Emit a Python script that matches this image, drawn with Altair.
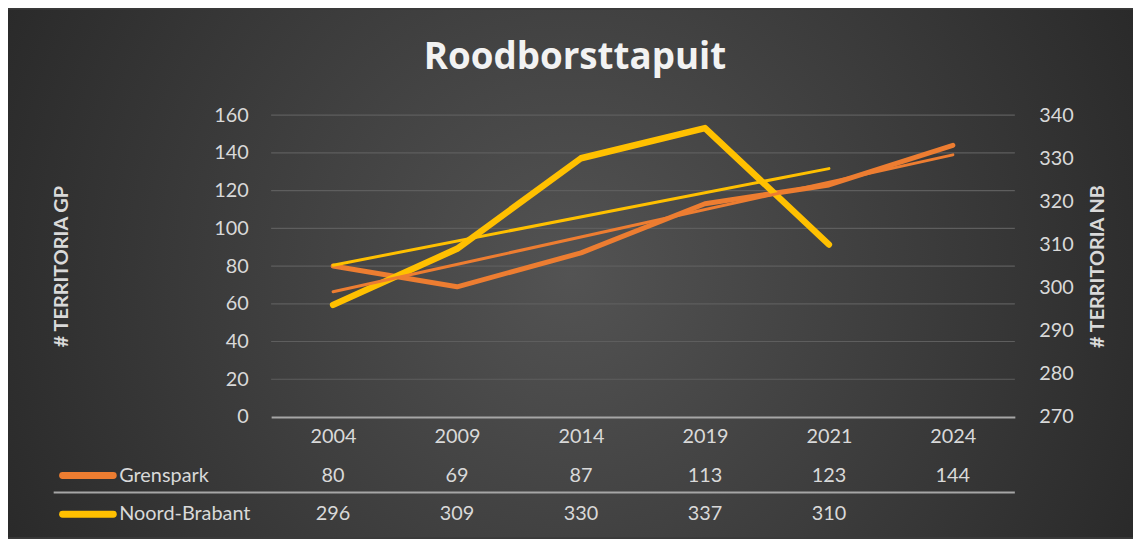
import json
import altair as alt
import pandas as pd

# ---- data ----
YEARS = ["2004", "2009", "2014", "2019", "2021", "2024"]
GRENSPARK = [80, 69, 87, 113, 123, 144]
NOORD_BRABANT = [296, 309, 330, 337, 310]
SERIES = ["Grenspark", "Noord-Brabant"]
TITLE = "Roodborsttapuit"
Y_LEFT_TITLE = "# TERRITORIA GP"
Y_RIGHT_TITLE = "# TERRITORIA NB"
LEFT_TICKS = [0, 20, 40, 60, 80, 100, 120, 140, 160]
RIGHT_TICKS = [270, 280, 290, 300, 310, 320, 330, 340]

ORANGE = "#ED7D31"
YELLOW = "#FFC000"
TXT = "#D9D9D9"
FONT = "Lato"

gp = pd.DataFrame({"idx": list(range(len(GRENSPARK))),
                   "year": YEARS[:len(GRENSPARK)],
                   "value": GRENSPARK})
nb = pd.DataFrame({"idx": list(range(len(NOORD_BRABANT))),
                   "year": YEARS[:len(NOORD_BRABANT)],
                   "value": NOORD_BRABANT})
grid_df = pd.DataFrame({"v": LEFT_TICKS[1:]})

W, H = 749, 304
PL, PT, PR, PB = 265, 106, 119, 121

label_expr = json.dumps(YEARS) + "[datum.value]"
xscale = alt.Scale(domain=[-0.5, len(YEARS) - 0.5], nice=False, zero=False)
xaxis = alt.Axis(values=list(range(len(YEARS))), labelExpr=label_expr,
                 title=None, grid=False, ticks=False, tickSize=0,
                 domain=True, domainColor="#A6A6A6", domainWidth=2,
                 labelColor=TXT, labelFont=FONT, labelFontSize=20,
                 labelPadding=10, zindex=1)
xenc = alt.X("idx:Q", scale=xscale, axis=xaxis)

left_scale = alt.Scale(domain=[0, 160], nice=False)
right_scale = alt.Scale(domain=[270, 340], nice=False, zero=False)

left_axis = alt.Axis(orient="left", values=LEFT_TICKS, title=Y_LEFT_TITLE,
                     grid=False, domain=False, ticks=False, tickSize=0, zindex=1,
                     labelColor=TXT, labelFont=FONT, labelFontSize=20, labelPadding=23,
                     titleColor=TXT, titleFont=FONT, titleFontSize=20, titleFontWeight="bold",
                     titleAngle=270, titleX=-211, titleY=H / 2,
                     titleAlign="center", titleBaseline="middle")
right_axis = alt.Axis(orient="right", values=RIGHT_TICKS, title=Y_RIGHT_TITLE,
                      grid=False, domain=False, ticks=False, tickSize=0, zindex=1,
                      labelColor=TXT, labelFont=FONT, labelFontSize=20, labelPadding=24,
                      titleColor=TXT, titleFont=FONT, titleFontSize=20, titleFontWeight="bold",
                      titleAngle=270, titleX=83, titleY=H / 2,
                      titleAlign="center", titleBaseline="middle")

one = pd.DataFrame({"k": [0]})

# background with radial gradient
bg = alt.Chart(one).mark_rect(
    color=alt.Gradient(gradient="radial",
                       stops=[alt.GradientStop(color="#535353", offset=0),
                              alt.GradientStop(color="#252525", offset=1)],
                       x1=0.5, y1=0.5, r1=0, x2=0.5, y2=0.5, r2=0.62)
).encode(x=alt.value(-PL), x2=alt.value(W + PR), y=alt.value(-PT), y2=alt.value(H + PB))

title = alt.Chart(pd.DataFrame({"t": [TITLE]})).mark_text(
    font="Open Sans", fontSize=37, fontWeight="bold", color="#F2F2F2",
    align="center", baseline="alphabetic").encode(
    x=alt.value(306), y=alt.value(-46), text="t:N")

grid = alt.Chart(grid_df).mark_rule(color="#5E5E5E", strokeWidth=1.2).encode(
    y=alt.Y("v:Q", scale=left_scale, axis=None), x=alt.value(0), x2=alt.value(W))

gp_line = alt.Chart(gp).mark_line(color=ORANGE, strokeWidth=5, strokeJoin="round",
                                  strokeCap="round").encode(
    x=xenc, y=alt.Y("value:Q", scale=left_scale, axis=left_axis))
nb_line = alt.Chart(nb).mark_line(color=YELLOW, strokeWidth=6.5, strokeJoin="round",
                                  strokeCap="round").encode(
    x=xenc, y=alt.Y("value:Q", scale=right_scale, axis=right_axis))
gp_trend = alt.Chart(gp).transform_regression("idx", "value").mark_line(
    color=ORANGE, strokeWidth=3, strokeCap="round").encode(
    x=xenc, y=alt.Y("value:Q", scale=left_scale, axis=None))
nb_trend = alt.Chart(nb).transform_regression("idx", "value").mark_line(
    color=YELLOW, strokeWidth=3, strokeCap="round").encode(
    x=xenc, y=alt.Y("value:Q", scale=right_scale, axis=None))

# data table rows
ROW1, ROW2, SEP = 363, 402, 380
gp_txt = alt.Chart(gp).mark_text(font=FONT, fontSize=20, color=TXT, baseline="middle").encode(
    x=xenc, y=alt.value(ROW1), text="value:Q")
nb_txt = alt.Chart(nb).mark_text(font=FONT, fontSize=20, color=TXT, baseline="middle").encode(
    x=xenc, y=alt.value(ROW2), text="value:Q")
sep = alt.Chart(one).mark_rule(color="#A6A6A6", strokeWidth=2).encode(
    x=alt.value(-219), x2=alt.value(W), y=alt.value(SEP))

key1 = alt.Chart(one).mark_rule(color=ORANGE, strokeWidth=7, strokeCap="round").encode(
    x=alt.value(-210), x2=alt.value(-159), y=alt.value(ROW1))
key2 = alt.Chart(one).mark_rule(color=YELLOW, strokeWidth=7, strokeCap="round").encode(
    x=alt.value(-210), x2=alt.value(-159), y=alt.value(ROW2))
lab1 = alt.Chart(pd.DataFrame({"s": [SERIES[0]]})).mark_text(
    font=FONT, fontSize=20, color=TXT, align="left", baseline="middle").encode(
    x=alt.value(-153), y=alt.value(ROW1), text="s:N")
lab2 = alt.Chart(pd.DataFrame({"s": [SERIES[1]]})).mark_text(
    font=FONT, fontSize=20, color=TXT, align="left", baseline="middle").encode(
    x=alt.value(-153), y=alt.value(ROW2), text="s:N")

chart = alt.layer(
    bg, title, grid, gp_line, nb_line, gp_trend, nb_trend,
    gp_txt, nb_txt, sep, key1, key2, lab1, lab2
).resolve_scale(y="independent").properties(
    width=W, height=H,
    autosize=alt.AutoSizeParams(type="none"),
    padding={"left": PL, "top": PT, "right": PR, "bottom": PB},
).configure(background="#3a3a3a").configure_view(stroke=None)

chart.save("out.html", embed_options={"renderer": "svg", "actions": False})
